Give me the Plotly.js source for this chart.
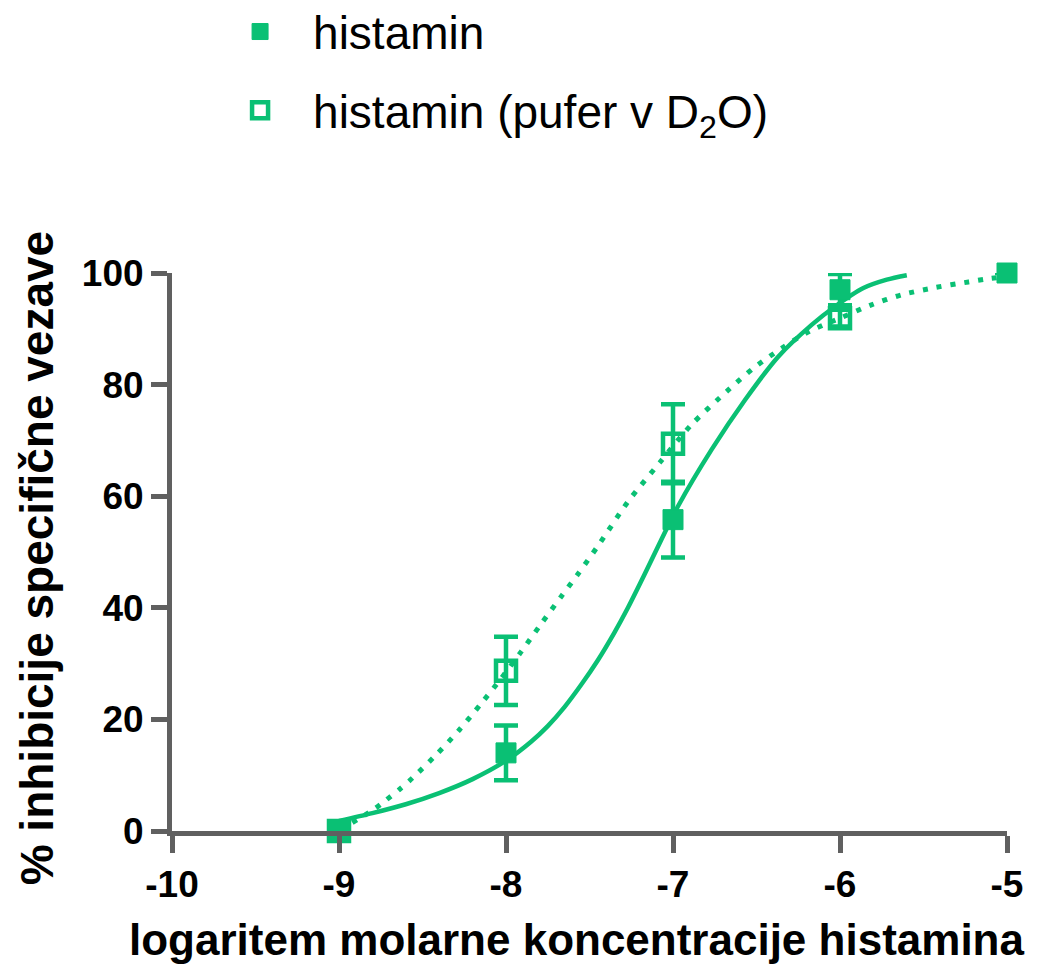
<!DOCTYPE html>
<html>
<head>
<meta charset="utf-8">
<script src="https://cdn.plot.ly/plotly-3.0.1.min.js"></script>
<style>html,body{margin:0;padding:0;background:#fff;}#chart{width:1054px;height:964px;}</style>
</head>
<body>
<div id="chart"></div>
<script>
// measured points
const doseX = [-9, -8, -7, -6, -5];
const histY = [0, 14.0, 55.8, 97.0, 100];
const histErr = [null, 4.9, 6.8, 2.8, null];
const d2oX = [-9, -8, -7, -6];
const d2oY = [0, 28.7, 69.4, 91.9];
const d2oErr = [null, 6.1, 7.1, 1.5];

// fitted curves
const fitHistX = [-9.0, -8.8, -8.6, -8.4, -8.2, -8.0, -7.85, -7.75, -7.65, -7.55, -7.45, -7.35, -7.27, -7.17, -7.07, -6.97, -6.77, -6.57, -6.37, -6.17, -6.03, -5.86, -5.72, -5.6];
const fitHistY = [1.8, 3.2, 4.8, 6.8, 9.3, 12.6, 16.0, 18.8, 22.2, 26.2, 30.6, 35.6, 40.0, 46.0, 52.2, 58.2, 68.3, 77.2, 85.0, 90.7, 94.0, 97.3, 98.8, 99.6];
const fitD2oX = [-8.92, -8.79, -8.72, -8.64, -8.56, -8.42, -8.28, -8.15, -8.03, -7.91, -7.79, -7.67, -7.57, -7.44, -7.27, -7.08, -6.89, -6.67, -6.52, -6.35, -6.18, -6.0, -5.82, -5.63, -5.43, -5.23, -5.13, -5.05];
const fitD2oY = [1.5, 3.9, 5.5, 7.4, 9.5, 13.6, 18.1, 22.8, 27.3, 32.1, 37.1, 42.0, 46.0, 51.5, 59.0, 66.0, 72.8, 79.0, 82.9, 86.5, 89.6, 91.9, 94.2, 96.1, 97.4, 98.4, 98.9, 99.2];

const xTicks = [-10, -9, -8, -7, -6, -5];
const yTicks = [0, 20, 40, 60, 80, 100];

const GREEN = '#0ac074';
const AXC = '#606060';
const FONT = 'Liberation Sans, Arial, sans-serif';

const traces = [
  {x: fitD2oX, y: fitD2oY, mode: 'lines', line: {color: GREEN, width: 5, dash: '5px,9px', shape: 'spline', smoothing: 0.8}, showlegend: false, hoverinfo: 'skip', cliponaxis: false},
  {x: fitHistX, y: fitHistY, mode: 'lines', line: {color: GREEN, width: 4.5, shape: 'spline', smoothing: 0.8}, showlegend: false, hoverinfo: 'skip', cliponaxis: false},
  {x: d2oX, y: d2oY, mode: 'markers', name: 'histamin (pufer v D<sub>2</sub>O)', legendgroup: 'b', legendrank: 2,
   marker: {symbol: 'square-open', size: 20, color: GREEN, line: {color: GREEN, width: 4.5}},
   error_y: {type: 'data', array: d2oErr, visible: true, color: GREEN, thickness: 4.5, width: 12}, cliponaxis: false},
  {x: doseX, y: histY, mode: 'markers', name: 'histamin', legendgroup: 'a', legendrank: 1,
   marker: {symbol: 'square', size: 20, color: GREEN, line: {color: GREEN, width: 1}},
   error_y: {type: 'data', array: histErr, visible: true, color: GREEN, thickness: 4.5, width: 12}, cliponaxis: false}
];

const layout = {
  width: 1054, height: 964,
  margin: {l: 172, r: 47, t: 273, b: 133, autoexpand: false},
  paper_bgcolor: '#fff', plot_bgcolor: '#fff',
  showlegend: true,
  legend: {x: 0.042, y: 1.498, xanchor: 'left', yanchor: 'top', traceorder: 'grouped', tracegroupgap: 16,
           font: {family: FONT, size: 46, color: '#000'}, bgcolor: 'rgba(0,0,0,0)', itemwidth: 96},
  xaxis: {range: [-10, -5], tickvals: xTicks, ticktext: xTicks.map(String), showgrid: false, zeroline: false,
          showline: true, linecolor: AXC, linewidth: 5, ticks: 'outside', ticklen: 17, tickwidth: 5, tickcolor: AXC,
          tickfont: {family: FONT, size: 37, color: '#000', weight: 'bold'}, fixedrange: true},
  yaxis: {range: [0, 100], tickvals: yTicks, ticktext: yTicks.map(String), showgrid: false, zeroline: false,
          showline: true, linecolor: AXC, linewidth: 5, ticks: 'outside', ticklen: 16, tickwidth: 5, tickcolor: AXC,
          tickfont: {family: FONT, size: 37, color: '#000', weight: 'bold'}, fixedrange: true},
  annotations: [
    {text: '<b>logaritem molarne koncentracije histamina</b>', xref: 'paper', yref: 'paper', x: 0.484, y: -0.195,
     xanchor: 'center', yanchor: 'middle', showarrow: false, font: {family: FONT, size: 44, color: '#000'}},
    {text: '<b>% inhibicije specifične vezave</b>', xref: 'paper', yref: 'paper', x: -0.162, y: 0.49, textangle: -90,
     xanchor: 'center', yanchor: 'middle', showarrow: false, font: {family: FONT, size: 46, color: '#000'}}
  ]
};

Plotly.newPlot('chart', traces, layout, {displayModeBar: false, staticPlot: true});
</script>
</body>
</html>
